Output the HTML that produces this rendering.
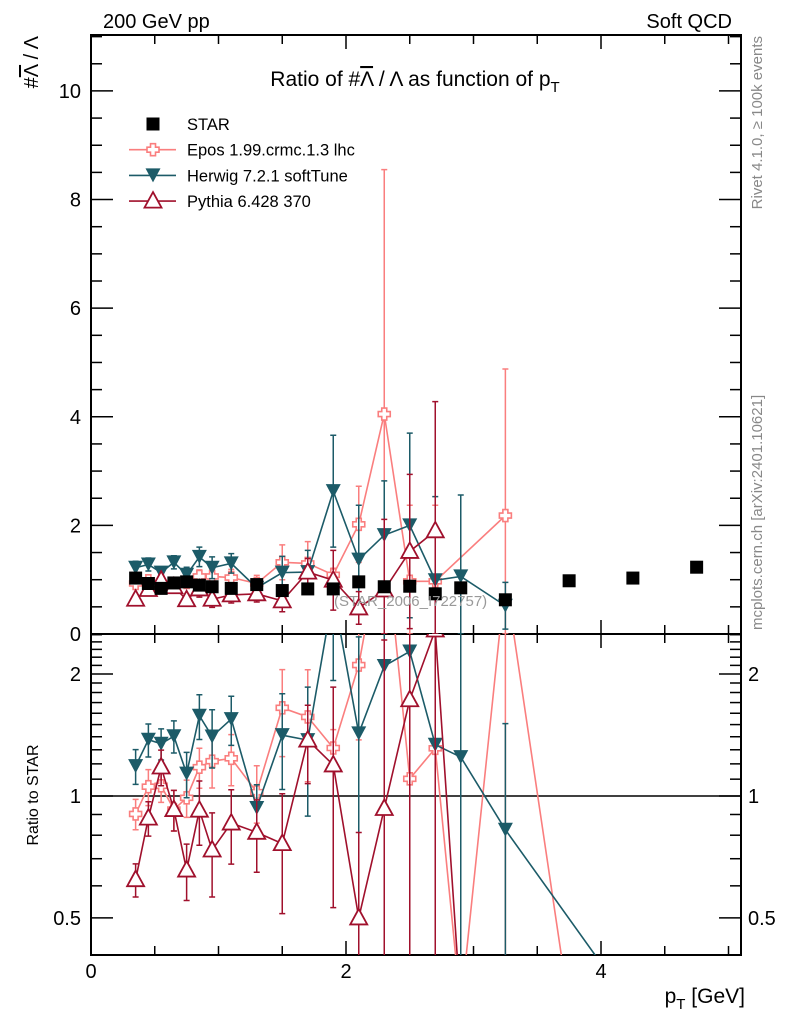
<!DOCTYPE html>
<html><head><meta charset="utf-8">
<style>
html,body{margin:0;padding:0;background:#fff;}
svg{display:block;font-family:"Liberation Sans","DejaVu Sans",sans-serif;}
</style></head>
<body>
<svg id="chart" width="786" height="1024" viewBox="0 0 786 1024" xmlns="http://www.w3.org/2000/svg">
<defs>
<clipPath id="clipTop"><rect x="91" y="35" width="650" height="599"/></clipPath>
<clipPath id="clipBot"><rect x="91" y="634" width="650" height="321"/></clipPath>
</defs>
<g id="axes"></g>
<g id="series-top" clip-path="url(#clipTop)"></g>
<g id="series-bot" clip-path="url(#clipBot)"></g>
<text x="103" y="28" font-size="20">200 GeV pp</text>
<text x="732" y="28" font-size="20" text-anchor="end">Soft QCD</text>
<text x="415" y="86" font-size="21" text-anchor="middle">Ratio of #<tspan text-decoration="overline">Λ</tspan> / Λ as function of p<tspan font-size="15" dy="6">T</tspan></text>
<text transform="translate(38,36) rotate(-90)" font-size="20" text-anchor="end">#<tspan text-decoration="overline">Λ</tspan> / Λ</text>
<text transform="translate(38,795) rotate(-90)" font-size="16" text-anchor="middle">Ratio to STAR</text>
<text x="745" y="1003" font-size="21" text-anchor="end">p<tspan font-size="15" dy="6">T</tspan><tspan dy="-6"> [GeV]</tspan></text>
<text transform="translate(762,36) rotate(-90)" font-size="15" fill="#888" text-anchor="end">Rivet 4.1.0, ≥ 100k events</text>
<text transform="translate(762,630) rotate(-90)" font-size="15" fill="#888">mcplots.cern.ch [arXiv:2401.10621]</text>
<text x="334" y="606" font-size="15" fill="#999">(STAR_2006_I722757)</text>
<g id="legend"></g>
</svg>
<script>
const pT = [0.35,0.45,0.55,0.65,0.75,0.85,0.95,1.1,1.3,1.5,1.7,1.9,2.1,2.3,2.5,2.7,2.9,3.25,3.75,4.25,4.75];
const starVals = [1.03,0.93,0.84,0.94,0.96,0.90,0.87,0.84,0.91,0.80,0.83,0.83,0.96,0.87,0.88,0.74,0.85,0.63,0.98,1.03,1.23];
const starErrs = [0.02,0.02,0.02,0.02,0.02,0.02,0.02,0.02,0.02,0.02,0.03,0.03,0.03,0.04,0.04,0.04,0.05,0.06,0.06,0.07,0.08];
// 0 = zero bin (drawn only in ratio panel), null = no bin
const eposVals = [0.93,0.98,0.89,0.87,0.95,1.06,1.06,1.04,0.93,1.32,1.30,1.09,2.02,4.05,0.97,0.97,0,2.18,0,null,null];
const eposErrs = [0.08,0.1,0.08,0.1,0.1,0.12,0.15,0.15,0.15,0.32,0.4,0.12,0.7,4.5,1.4,1.4,0,2.7,0,null,null];
const herwigVals = [1.22,1.28,1.13,1.32,1.09,1.42,1.22,1.30,0.85,1.13,1.14,2.63,1.37,1.82,2.0,0.99,1.06,0.52,null,0,null];
const herwigErrs = [0.12,0.12,0.1,0.12,0.14,0.18,0.2,0.18,0.12,0.3,0.4,1.03,1.0,1.0,1.7,1.54,1.5,0.43,null,0,null];
const pythiaVals = [0.64,0.82,0.99,0.87,0.63,0.83,0.64,0.72,0.74,0.61,1.14,0.99,0.48,0.81,1.52,1.90,0,null,null,null,null];
const pythiaErrs = [0.06,0.08,0.1,0.1,0.1,0.15,0.15,0.15,0.15,0.2,0.25,0.55,0.3,1.3,1.42,2.38,0,null,null,null,null];
const yTicksTop = [0,2,4,6,8,10];
const xTicks = [0,2,4];
const ratioTicks = [0.5,1,2];
const ratioTickLabels = ["0.5","1","2"];

const NS = "http://www.w3.org/2000/svg";
const X0=91,X1=741,YT0=35,YT1=634,YB0=634,YB1=955;
const xMin=0,xMax=5.098, yMax=11.03, rMin=0.405, rMax=2.51;
const sx = v => X0 + (v-xMin)/(xMax-xMin)*(X1-X0);
const sy = v => YT1 - v/yMax*(YT1-YT0);
const sr = v => { const lv=Math.log(Math.max(v,0.3)); return YB1 - (lv-Math.log(rMin))/(Math.log(rMax)-Math.log(rMin))*(YB1-YB0); };

function mk(tag, attrs, parent){
  const e=document.createElementNS(NS,tag);
  for(const k in attrs) e.setAttribute(k,attrs[k]);
  parent.appendChild(e); return e;
}
const gAxes=document.getElementById('axes');
const gTop=document.getElementById('series-top');
const gBot=document.getElementById('series-bot');
const gLeg=document.getElementById('legend');

let f1=mk('rect',{x:X0,y:YT0,width:X1-X0,height:YT1-YT0,fill:'none',stroke:'#000','stroke-width':2},gAxes);


let f2=mk('rect',{x:X0,y:YB0,width:X1-X0,height:YB1-YB0,fill:'none',stroke:'#000','stroke-width':2},gAxes);



for(let k=0; k<=10; k++){
  const v=k*0.5;
  const x=sx(v); const major = xTicks.some(t=>Math.abs(t-v)<1e-6);
  const L = major?14:9;
  [[YT0,1],[YT1,-1],[YB0,1],[YB1,-1]].forEach(([y,d])=>{
    const t=mk('line',{x1:x,x2:x,y1:y,y2:y+d*L,stroke:'#000','stroke-width':1.5},gAxes);
    
    
  });
}
xTicks.forEach(v=>{
  const t=mk('text',{x:sx(v),y:978,'font-size':20,'text-anchor':'middle'},gAxes);
  t.textContent=String(v);
  
  
});
for(let k=0; k<=22; k++){
  const v=k*0.5;
  const y=sy(v); const major=yTicksTop.includes(v);
  const L=major?22:11;
  const a=mk('line',{x1:X0,x2:X0+L,y1:y,y2:y,stroke:'#000','stroke-width':1.5},gAxes);
  
  
  const b=mk('line',{x1:X1,x2:X1-L,y1:y,y2:y,stroke:'#000','stroke-width':1.5},gAxes);
  
  
}
yTicksTop.forEach(v=>{
  const t=mk('text',{x:81,y:sy(v)+7,'font-size':20,'text-anchor':'end'},gAxes);
  t.textContent=String(v);
  
  
});
const rMinor=[];
for(let k=5; k<10; k++) rMinor.push(k/10);
for(let k=10; k<=25; k++) rMinor.push(k/10);
rMinor.forEach(v=>{
  const y=sr(v); if(y<YB0-0.5||y>YB1+0.5) return;
  const major=ratioTicks.some(t=>Math.abs(t-v)<1e-6);
  const L=major?22:11;
  const a=mk('line',{x1:X0,x2:X0+L,y1:y,y2:y,stroke:'#000','stroke-width':1.5},gAxes);
  
  
  const b=mk('line',{x1:X1,x2:X1-L,y1:y,y2:y,stroke:'#000','stroke-width':1.5},gAxes);
  
  
});
ratioTicks.forEach((v,i)=>{
  const t=mk('text',{x:81,y:sr(v)+7,'font-size':20,'text-anchor':'end'},gAxes);
  t.textContent=ratioTickLabels[i];
  
  
  const t2=mk('text',{x:748,y:sr(v)+7,'font-size':20},gAxes);
  t2.textContent=ratioTickLabels[i];
  
  
});
const unity=mk('line',{x1:X0,x2:X1,y1:sr(1),y2:sr(1),stroke:'#000','stroke-width':1.5},gAxes);



function marker(kind,color,x,y,parent){
  let e;
  if(kind==='square'){
    e=mk('rect',{x:x-6.5,y:y-6.5,width:13,height:13,fill:'#000'},parent);
  } else if(kind==='cross'){
    const s=2.5,o=6;
    e=mk('path',{d:`M${x-s},${y-o}H${x+s}V${y-s}H${x+o}V${y+s}H${x+s}V${y+o}H${x-s}V${y+s}H${x-o}V${y-s}H${x-s}Z`,fill:'#fff',stroke:color,'stroke-width':1.6},parent);
  } else if(kind==='down'){
    e=mk('path',{d:`M${x-7.5},${y-7}L${x+7.5},${y-7}L${x},${y+7}Z`,fill:color},parent);
  } else {
    e=mk('path',{d:`M${x},${y-9}L${x+8.5},${y+6.5}L${x-8.5},${y+6.5}Z`,fill:'#fff',stroke:color,'stroke-width':1.8},parent);
  }
  return e;
}

function drawSeries(name,vals,errs,color,kind,isStar){
  let pts=[];
  vals.forEach((v,i)=>{ if(v!==null && v>0) pts.push([sx(pT[i]),sy(v),i]); });
  if(!isStar){
    const pl=mk('polyline',{points:pts.map(p=>p[0]+','+p[1]).join(' '),fill:'none',stroke:color,'stroke-width':1.6},gTop);
    
    
  }
  pts.forEach(([x,y,i])=>{
    const v=vals[i], e=errs[i];
    const eb=mk('path',{d:`M${x},${sy(v+e)}V${sy(Math.max(v-e,0))}M${x-3},${sy(v+e)}h6M${x-3},${sy(Math.max(v-e,0))}h6`,stroke:color,'stroke-width':1.5,fill:'none'},gTop);
    
    
    const m=marker(kind,color,x,y,gTop);
    
    
  });
  if(isStar) return;
  let rp=[];
  vals.forEach((v,i)=>{ if(v!==null) rp.push([sx(pT[i]),v/starVals[i],errs[i]/starVals[i],v>0]); });
  const rl=mk('polyline',{points:rp.map(p=>p[0]+','+sr(p[1])).join(' '),fill:'none',stroke:color,'stroke-width':1.6},gBot);
  
  
  rp.forEach(([x,r,e,ok])=>{
    if(!ok) return;
    const eb=mk('path',{d:`M${x},${sr(r+e)}V${sr(r-e)}M${x-3},${sr(r+e)}h6M${x-3},${sr(r-e)}h6`,stroke:color,'stroke-width':1.5,fill:'none'},gBot);
    
    
    const m=marker(kind,color,x,sr(r),gBot);
    
    
  });
}
const cEpos='#fa7e7e', cHer='#1c5b68', cPy='#a0102c';
drawSeries('epos',eposVals,eposErrs,cEpos,'cross',false);
drawSeries('herwig',herwigVals,herwigErrs,cHer,'down',false);
drawSeries('pythia',pythiaVals,pythiaErrs,cPy,'up',false);
drawSeries('star',starVals,starErrs,'#000','square',true);

const legNames=['STAR','Epos 1.99.crmc.1.3 lhc','Herwig 7.2.1 softTune','Pythia 6.428 370'];
const legKinds=['square','cross','down','up'];
const legColors=['#000',cEpos,cHer,cPy];
const legKeys=['star','epos','herwig','pythia'];
legNames.forEach((n,i)=>{
  const y=124+i*25.7;
  const g=mk('g',{},gLeg);
  
  
  if(i>0){ mk('line',{x1:129,x2:176,y1:y,y2:y,stroke:legColors[i],'stroke-width':1.6},g); }
  marker(legKinds[i],legColors[i],153,y,g);
  const t=mk('text',{x:187,y:y+6,'font-size':16.5},g);
  t.textContent=n;
});
</script>
</body></html>
